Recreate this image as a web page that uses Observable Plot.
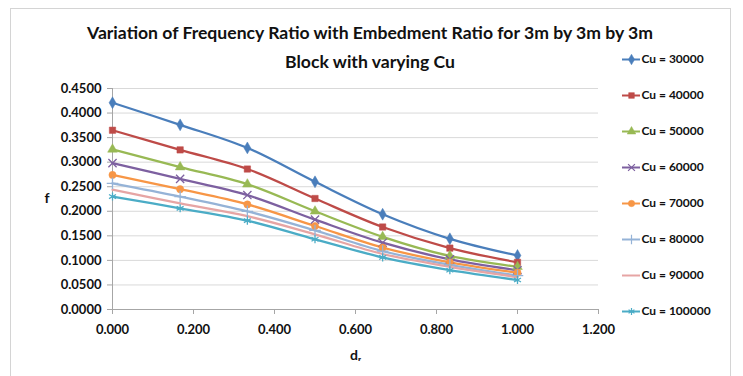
<!DOCTYPE html>
<html>
<head>
<meta charset="utf-8">
<script src="https://cdn.jsdelivr.net/npm/d3@7"></script>
<script src="https://cdn.jsdelivr.net/npm/@observablehq/plot@0.6"></script>
<style>
  html, body { margin: 0; padding: 0; background: #fff; }
  #chart { position: relative; width: 743px; height: 376px; overflow: hidden; font-family: Lato, "Open Sans", sans-serif; }
  #frame { position: absolute; left: 10px; top: 8px; width: 721px; height: 400px; border: 1px solid #d4d4d4; box-sizing: border-box; }
  #title { position: absolute; left: 0; width: 740px; top: 19px; text-align: center; font-size: 17.6px; font-weight: 700; line-height: 28.5px; color: #111; }
  #main, #legend { position: absolute; }
  #main { left: 0; top: 0; }
  #legend { left: 612px; top: 38px; }
</style>
</head>
<body>
<div id="chart">
  <div id="frame"></div>
  <div id="title">Variation of Frequency Ratio with Embedment Ratio for 3m by 3m by 3m<br>Block with varying Cu</div>
  <div id="main"></div>
  <div id="legend"></div>
</div>
<script>
// Embedment ratio (x) and frequency ratio f for each undrained shear strength Cu
const embedment = [0, 0.167, 0.333, 0.5, 0.667, 0.833, 1.0];
const seriesNames = ["Cu = 30000", "Cu = 40000", "Cu = 50000", "Cu = 60000", "Cu = 70000", "Cu = 80000", "Cu = 90000", "Cu = 100000"];
const cu30000  = [0.421, 0.376, 0.329, 0.260, 0.194, 0.144, 0.110];
const cu40000  = [0.365, 0.325, 0.286, 0.226, 0.168, 0.125, 0.096];
const cu50000  = [0.326, 0.290, 0.255, 0.200, 0.148, 0.109, 0.087];
const cu60000  = [0.298, 0.266, 0.233, 0.183, 0.136, 0.102, 0.080];
const cu70000  = [0.274, 0.245, 0.214, 0.170, 0.126, 0.096, 0.075];
const cu80000  = [0.257, 0.230, 0.200, 0.161, 0.119, 0.091, 0.069];
const cu90000  = [0.244, 0.216, 0.190, 0.153, 0.113, 0.087, 0.066];
const cu100000 = [0.230, 0.206, 0.181, 0.143, 0.106, 0.080, 0.060];
const seriesValues = [cu30000, cu40000, cu50000, cu60000, cu70000, cu80000, cu90000, cu100000];

const xTicks = [0, 0.2, 0.4, 0.6, 0.8, 1.0, 1.2];
const yTicks = [0, 0.05, 0.1, 0.15, 0.2, 0.25, 0.3, 0.35, 0.4, 0.45];

// Styling per series: colour, marker symbol, whether the marker is filled
const colors  = ["#4a7ebb", "#be4b48", "#98b954", "#7d60a0", "#f79646", "#95b3d7", "#e6a5a4", "#4bacc6"];
const symbols = ["diamond", "square", "triangle", "times", "circle", "plus", null, "asterisk"];
const filled  = [true, true, true, false, true, false, false, false];

const rows = seriesNames.flatMap((name, i) =>
  embedment.map((x, j) => ({series: name, x, f: seriesValues[i][j]})));

const font = "Lato, 'Open Sans', sans-serif";

const dotMarks = seriesNames.map((name, i) => {
  if (!symbols[i]) return null;
  const data = rows.filter(d => d.series === name);
  return filled[i]
    ? Plot.dot(data, {x: "x", y: "f", symbol: () => symbols[i], fill: colors[i], r: 3.6, stroke: colors[i], strokeWidth: 0.5})
    : Plot.dot(data, {x: "x", y: "f", symbol: () => symbols[i], stroke: colors[i], r: 3.8, strokeWidth: 1.3});
}).filter(Boolean);

const main = Plot.plot({
  width: 743,
  height: 376,
  marginLeft: 112,
  marginRight: 145,
  marginTop: 88,
  marginBottom: 67,
  style: {fontFamily: font, fontSize: "13px", fontWeight: 700, color: "#111", background: "transparent"},
  x: {domain: [0, 1.2], label: null},
  y: {domain: [0, 0.45], label: null},
  symbol: {type: "identity"},
  marks: [
    Plot.gridY(yTicks.filter(d => d > 0), {stroke: "#d9d9d9", strokeOpacity: 1}),
    Plot.ruleY([0], {stroke: "#a6a6a6"}),
    Plot.ruleX([0], {stroke: "#a6a6a6"}),
    Plot.axisY(yTicks, {tickSize: 5, tickPadding: 6, stroke: "#a6a6a6", tickFormat: d => d.toFixed(4), fill: "#111"}),
    Plot.axisX(xTicks, {tickSize: 5, tickPadding: 10, stroke: "#a6a6a6", tickFormat: d => d.toFixed(3), fill: "#111"}),
    Plot.line(rows, {x: "x", y: "f", z: "series", stroke: d => colors[seriesNames.indexOf(d.series)], strokeWidth: 2.3, curve: "catmull-rom"}),
    ...dotMarks,
    Plot.text(["f"], {frameAnchor: "left", dx: -68, fontSize: 14, fill: "#111"}),
    Plot.text(["dᵣ"], {frameAnchor: "bottom", dy: 50, fontSize: 14, fill: "#111"})
  ]
});
document.getElementById("main").append(main);

// Legend drawn as its own small plot: one row per series
const legendRows = seriesNames.map((name, i) => ({series: name, i}));
const legend = Plot.plot({
  width: 125,
  height: 294,
  margin: 0,
  marginTop: 19,
  marginBottom: 19,
  style: {fontFamily: font, fontSize: "12px", fontWeight: 700, background: "transparent"},
  x: {domain: [0, 1], range: [10, 28], axis: null},
  y: {domain: seriesNames, type: "point", padding: 0, axis: null},
  marks: [
    Plot.ruleY(legendRows, {y: "series", x1: 0, x2: 1, stroke: d => colors[d.i], strokeWidth: 2}),
    ...legendRows.filter(d => symbols[d.i]).map(d =>
      Plot.dot([d], {x: 0.5, y: "series", symbol: () => symbols[d.i], r: 3.2,
        fill: filled[d.i] ? colors[d.i] : "none", stroke: colors[d.i], strokeWidth: filled[d.i] ? 0.5 : 1.2})),
    Plot.text(legendRows, {x: 1, y: "series", text: "series", textAnchor: "start", dx: 1, fill: "#111"})
  ]
});
document.getElementById("legend").append(legend);
</script>
</body>
</html>
